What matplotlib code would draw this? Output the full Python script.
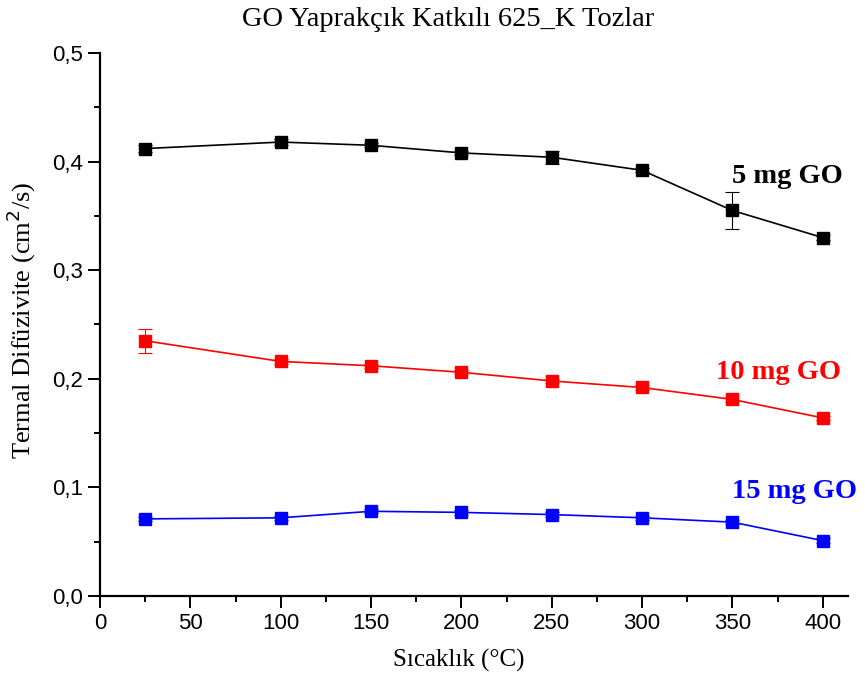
import matplotlib
matplotlib.use("Agg")
import matplotlib.pyplot as plt
from matplotlib.ticker import MultipleLocator, FuncFormatter

temps = [25, 100, 150, 200, 250, 300, 350, 400]
go5 = [0.412, 0.418, 0.415, 0.408, 0.404, 0.392, 0.355, 0.330]
go5_err = [0.003, 0.003, 0.002, 0.002, 0.006, 0.002, 0.017, 0.002]
go10 = [0.235, 0.216, 0.212, 0.206, 0.198, 0.192, 0.181, 0.164]
go10_err = [0.011, 0.002, 0.002, 0.002, 0.002, 0.002, 0.002, 0.002]
go15 = [0.071, 0.072, 0.078, 0.077, 0.075, 0.072, 0.068, 0.051]
go15_err = [0.002, 0.002, 0.002, 0.002, 0.002, 0.002, 0.002, 0.002]
labels = ["5 mg GO", "10 mg GO", "15 mg GO"]
label_x = [411, 410, 419]
label_y = [0.386, 0.206, 0.096]
colors = ["black", "#ff0000", "#0000ff"]

W, H = 865, 682
fig = plt.figure(figsize=(W / 100, H / 100), dpi=100)
ax = fig.add_axes([100 / W, 1 - 596 / H, 748 / W, 543 / H])

for y, e, c in zip([go5, go10, go15], [go5_err, go10_err, go15_err], colors):
    ax.errorbar(temps, y, yerr=e, color=c, marker='s', markersize=8, lw=1.2,
                elinewidth=0.8, ecolor=c, capsize=5, capthick=0.8)

for lab, lx, ly, c in zip(labels, label_x, label_y, colors):
    ax.text(lx, ly, lab, ha='right', va='center', clip_on=False,
            family='Liberation Serif', fontweight='bold', fontsize=20.5, color=c)

ax.set_xlim(0, 414)
ax.set_ylim(0, 0.5)
ax.xaxis.set_major_locator(MultipleLocator(50))
ax.xaxis.set_minor_locator(MultipleLocator(25))
ax.yaxis.set_major_locator(MultipleLocator(0.1))
ax.yaxis.set_minor_locator(MultipleLocator(0.05))
ax.yaxis.set_major_formatter(FuncFormatter(lambda v, p: f"{v:.1f}".replace('.', ',')))
for s in ['top', 'right']:
    ax.spines[s].set_visible(False)
for s in ['left', 'bottom']:
    ax.spines[s].set_linewidth(1.6)
ax.tick_params(which='major', length=8.5, width=1.4, labelsize=16, pad=4)
ax.tick_params(which='minor', length=4.5, width=1.4)
for lab in ax.get_xticklabels() + ax.get_yticklabels():
    lab.set_family('Liberation Sans')

fig.text(459 / W, 1 - 660 / H, "Sıcaklık (°C)", family='Liberation Serif',
         fontsize=18, ha='center', va='center')
fig.text(21 / W, 1 - 320 / H, "Termal Difüzivite (cm$^2$/s)", family='Liberation Serif',
         fontsize=19, ha='center', va='center', rotation=90)
fig.text(448 / W, 1 - 20 / H, "GO Yaprakçık Katkılı 625_K Tozlar", family='Liberation Serif',
         fontsize=20.5, ha='center', va='center')

fig.savefig("out.png", dpi=100)
